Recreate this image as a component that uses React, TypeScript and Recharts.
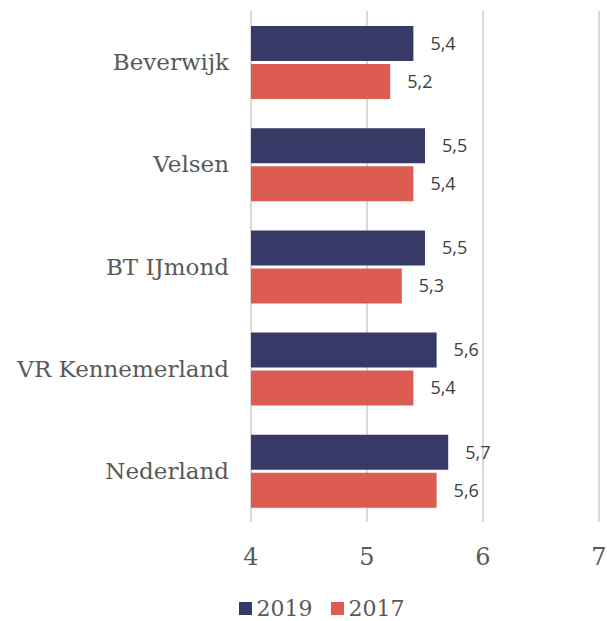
import { BarChart, Bar, XAxis, YAxis, CartesianGrid, Legend, LabelList } from 'recharts';

const categories = ['Beverwijk', 'Velsen', 'BT IJmond', 'VR Kennemerland', 'Nederland'];
const values2019 = [5.4, 5.5, 5.5, 5.6, 5.7];
const values2017 = [5.2, 5.4, 5.3, 5.4, 5.6];
const xTicks = [4, 5, 6, 7];
const seriesInfo = [
    { key: 'y2019', name: '2019', color: '#373a67' },
    { key: 'y2017', name: '2017', color: '#dd5c51' },
];

const data = categories.map((name, i) => ({
    name,
    y2019: values2019[i],
    y2017: values2017[i],
}));

const serif = "'DejaVu Serif', 'Liberation Serif', serif";
const fmt = (v: number) => String(v).replace('.', ',');

const LegendContent = () => (
    <div style={{ display: 'flex', justifyContent: 'center', paddingLeft: 44, fontFamily: serif, fontSize: 22, color: '#595959' }}>
        {seriesInfo.map((s) => (
            <span key={s.key} style={{ display: 'flex', alignItems: 'center', margin: '0 9px' }}>
                <span style={{ width: 13, height: 13, background: s.color, marginRight: 5, display: 'inline-block' }} />
                {s.name}
            </span>
        ))}
    </div>
);

export default function App() {
    return (
        <div style={{ position: 'absolute', left: 0, top: 0, width: 607, height: 621, overflow: 'hidden' }}>
            <BarChart
                width={607}
                height={621}
                data={data}
                layout="vertical"
                margin={{ top: 11, right: 8, bottom: 0, left: 0 }}
                barGap={3}
                barCategoryGap={15}
            >
                <CartesianGrid horizontal={false} stroke="#d9d9d9" strokeWidth={2} />
                <XAxis
                    type="number"
                    domain={[4, 7]}
                    ticks={xTicks}
                    axisLine={false}
                    tickLine={false}
                    tickMargin={20}
                    height={74}
                    tick={{ fill: '#595959', fontSize: 24, fontFamily: serif, fontWeight: 300 }}
                />
                <YAxis
                    type="category"
                    dataKey="name"
                    width={251}
                    axisLine={false}
                    tickLine={false}
                    tickMargin={16}
                    tick={{ fill: '#595959', fontSize: 23, fontFamily: serif }}
                />
                <Legend verticalAlign="bottom" content={<LegendContent />} />
                {seriesInfo.map((s) => (
                    <Bar key={s.key} dataKey={s.key} name={s.name} fill={s.color} barSize={35} isAnimationActive={false}>
                        <LabelList
                            dataKey={s.key}
                            position="right"
                            offset={17}
                            formatter={fmt}
                            style={{ fill: '#404040', fontSize: 18, fontFamily: "'Open Sans', sans-serif" }}
                        />
                    </Bar>
                ))}
            </BarChart>
        </div>
    );
}
